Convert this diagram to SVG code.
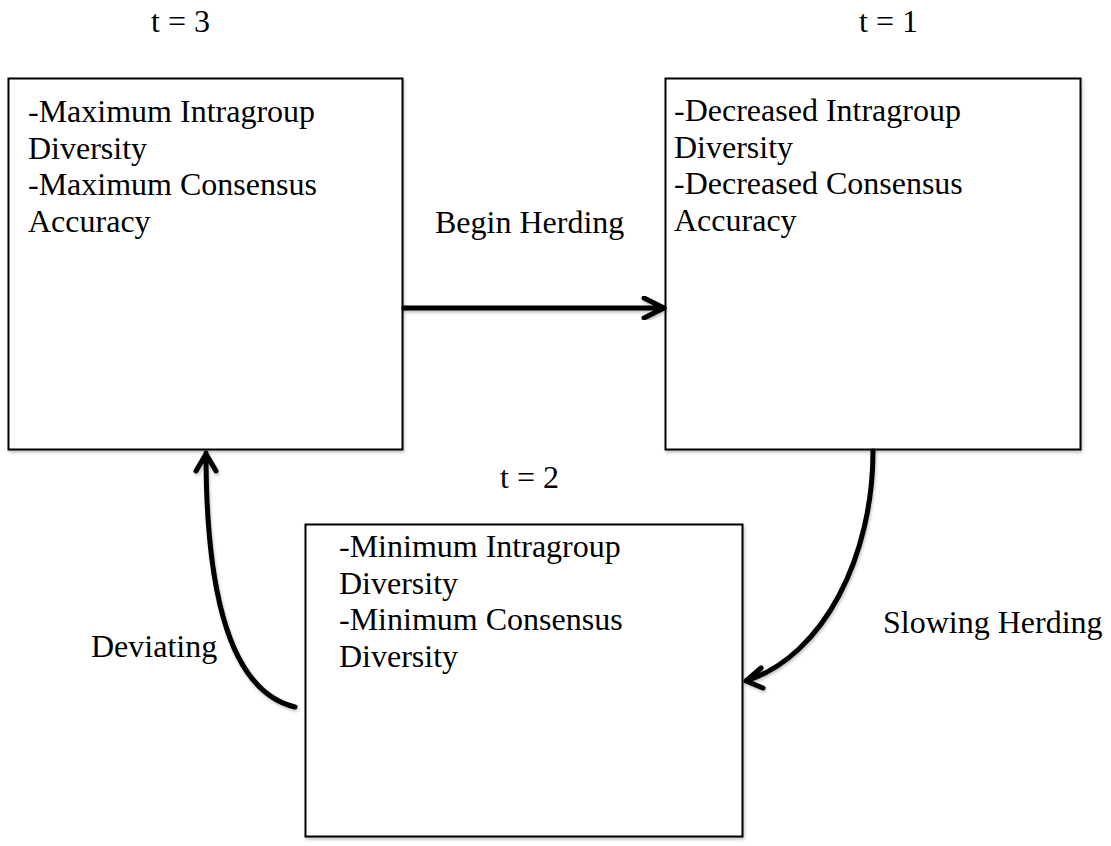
<svg xmlns="http://www.w3.org/2000/svg" width="1111" height="846" viewBox="0 0 1111 846">
<style>
.t{font-family:"Liberation Serif","Times New Roman",serif;font-size:32px;fill:#000}
.box{fill:#fff;stroke:#000;stroke-width:2;filter:url(#sh)}
.conn{fill:none;stroke:#000;stroke-width:5;stroke-linecap:round;stroke-linejoin:round;filter:url(#sh)}
</style>
<defs>
<filter id="sh" x="-10%" y="-10%" width="120%" height="120%">
<feDropShadow dx="1" dy="2" stdDeviation="1.5" flood-color="#000" flood-opacity="0.25"/>
</filter>
</defs>
<rect width="1111" height="846" fill="#fff"/>
<text class="t" x="151" y="32">t = 3</text>
<text class="t" x="859" y="32">t = 1</text>
<text class="t" x="500" y="488">t = 2</text>
<g id="node-t3">
<rect class="box" x="8.5" y="78.5" width="394" height="371"/>
<text class="t" x="28" y="122">-Maximum Intragroup</text>
<text class="t" x="28" y="158.5">Diversity</text>
<text class="t" x="28" y="195">-Maximum Consensus</text>
<text class="t" x="28" y="231.5">Accuracy</text>
</g>
<g id="node-t1">
<rect class="box" x="665.5" y="78.5" width="415" height="371"/>
<text class="t" x="674" y="121">-Decreased Intragroup</text>
<text class="t" x="674" y="157.5">Diversity</text>
<text class="t" x="674" y="194">-Decreased Consensus</text>
<text class="t" x="674" y="230.5">Accuracy</text>
</g>
<g id="node-t2">
<rect class="box" x="305.5" y="524.5" width="437" height="312"/>
<text class="t" x="339" y="557">-Minimum Intragroup</text>
<text class="t" x="339" y="593.5">Diversity</text>
<text class="t" x="339" y="630">-Minimum Consensus</text>
<text class="t" x="339" y="666.5">Diversity</text>
</g>
<g id="connectors">
<path class="conn" d="M404 308 L663 308 M644 298 L664 308 L644 318"/>
<path class="conn" d="M873 451 C873 555 825 655 746 681 M761 668 L746 681 L763 688"/>
<path class="conn" d="M295 707 C232 692 206 600 206 453 M196 471 L206 454 L216 471"/>
<text class="t" x="435" y="233">Begin Herding</text>
<text class="t" x="883" y="633">Slowing Herding</text>
<text class="t" x="91" y="657">Deviating</text>
</g>
</svg>
